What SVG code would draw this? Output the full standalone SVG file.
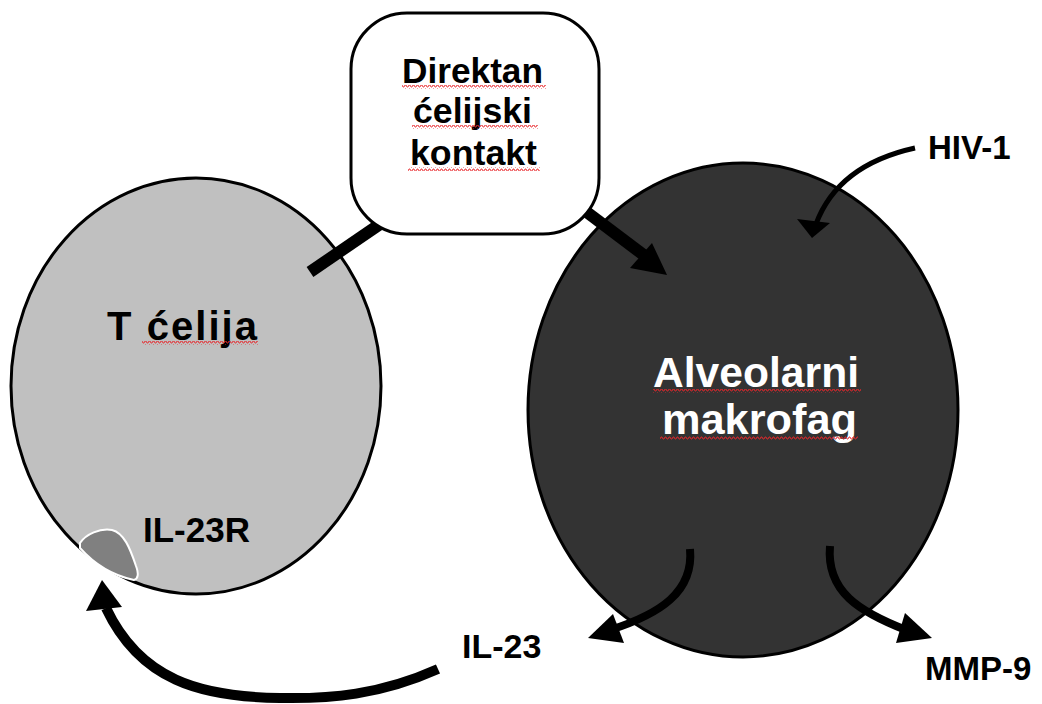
<svg xmlns="http://www.w3.org/2000/svg" width="1042" height="704" viewBox="0 0 1042 704">
<style>
.t{font-family:"Liberation Sans",Arial,sans-serif;font-weight:bold;fill:#000}
.w{fill:#fff}
.c{fill:none;stroke:#000;stroke-linecap:butt}
.h{fill:#000}
</style>
<defs>
<pattern id="sq" width="4" height="4" patternUnits="userSpaceOnUse">
<polyline points="0,3 1,1 2,1 3,3 4,3" fill="none" stroke="#e8262a" stroke-width="0.9"/>
</pattern>
</defs>
<rect width="1042" height="704" fill="#fff"/>
<g id="tcell">
<ellipse cx="196" cy="386" rx="185" ry="208" fill="#c0c0c0" stroke="#000" stroke-width="3"/>
<text class="t" x="107" y="340" style="font-size:40px" textLength="150" lengthAdjust="spacing">T ćelija</text>
<rect x="142" y="341" width="116" height="4" fill="url(#sq)"/>
</g>
<g id="il23r">
<path d="M80,543 C86,534 100,528 112,530 C124,533 130,548 136,566 C139,574 138,579 134,580 C115,576 95,565 80,548 Z" fill="#808080" stroke="#fff" stroke-width="2"/>
<text class="t" x="143" y="542" style="font-size:35px">IL-23R</text>
</g>
<g id="macrophage">
<ellipse cx="743" cy="410" rx="215" ry="247" fill="#333" stroke="#000" stroke-width="3"/>
<text class="t w" x="653" y="387" style="font-size:42.5px" textLength="206" lengthAdjust="spacingAndGlyphs">Alveolarni</text>
<text class="t w" x="662" y="434" style="font-size:42.5px" textLength="195" lengthAdjust="spacingAndGlyphs">makrofag</text>
<rect x="653" y="389" width="208" height="4" fill="url(#sq)"/>
<rect x="660" y="436" width="198" height="4" fill="url(#sq)"/>
</g>
<g id="connectors">
<line x1="310" y1="272" x2="386" y2="220" stroke="#000" stroke-width="12"/>
<line x1="580" y1="207" x2="645" y2="256" stroke="#000" stroke-width="12"/>
<polygon class="h" points="667,275 630,268 652,243"/>
<path class="c" d="M915,148 Q838,165 816,224" stroke-width="5"/>
<polygon class="h" points="812,238 797,219 830,223"/>
<path class="c" d="M690,549 C694,592 660,614 610,630" stroke-width="8"/>
<polygon class="h" points="588,638 613,614 624,643"/>
<path class="c" d="M830,546 C826,592 860,612 906,630" stroke-width="8"/>
<polygon class="h" points="932,638 905,613 896,643"/>
<path class="c" d="M438,669 C380,695 330,699 280,698 C200,697 140,680 106,608" stroke-width="10"/>
<polygon class="h" points="102,580 86,611 122,607"/>
</g>
<g id="contact">
<rect x="351" y="13" width="248" height="221" rx="56" ry="56" fill="#fff" stroke="#000" stroke-width="3"/>
<text class="t" x="402" y="83" style="font-size:35.5px" textLength="141" lengthAdjust="spacingAndGlyphs">Direktan</text>
<text class="t" x="413" y="123" style="font-size:35.5px" textLength="119" lengthAdjust="spacingAndGlyphs">ćelijski</text>
<text class="t" x="410" y="165" style="font-size:35.5px" textLength="127" lengthAdjust="spacingAndGlyphs">kontakt</text>
<rect x="402" y="85" width="144" height="4" fill="url(#sq)"/>
<rect x="412" y="125" width="126" height="4" fill="url(#sq)"/>
<rect x="408" y="167" width="132" height="4" fill="url(#sq)"/>
</g>
<g id="labels">
<text class="t" x="928" y="159" style="font-size:33px">HIV-1</text>
<text class="t" x="462" y="658" style="font-size:34px">IL-23</text>
<text class="t" x="925" y="680" style="font-size:33px">MMP-9</text>
</g>
</svg>
